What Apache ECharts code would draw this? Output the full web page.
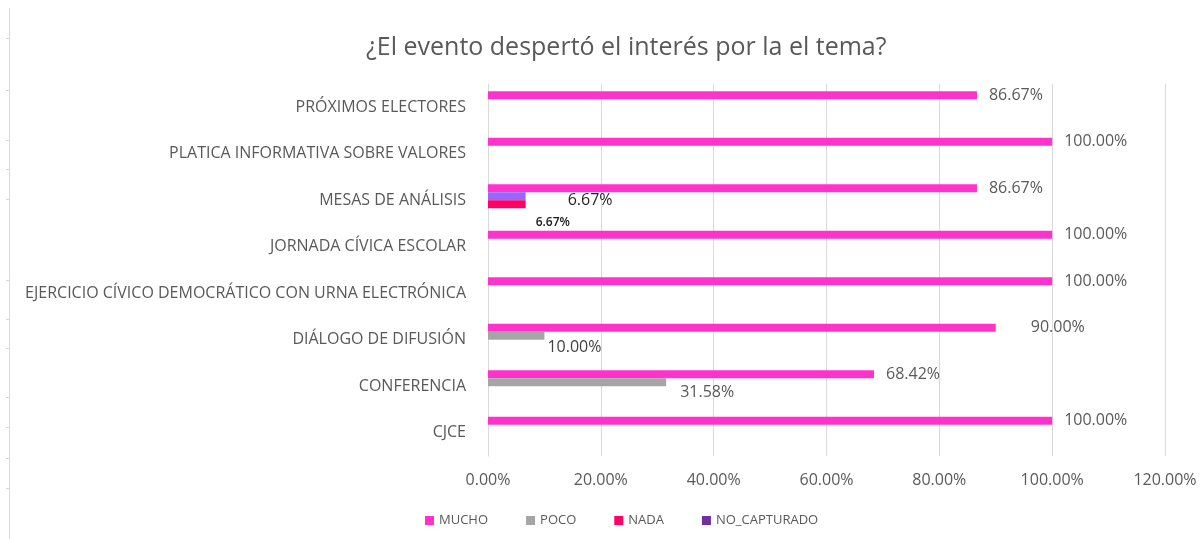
<!DOCTYPE html>
<html>
<head>
<meta charset="utf-8">
<script src="https://cdn.jsdelivr.net/npm/echarts@6/dist/echarts.min.js"></script>
<style>
html,body{margin:0;padding:0;background:#fff;}
#chart{width:1202px;height:539px;}
</style>
</head>
<body>
<div id="chart"></div>
<script>
const FONT = '"Open Sans", sans-serif';
const titleText = '¿El evento despertó el interés por la el tema?';
const categories = ['CJCE', 'CONFERENCIA', 'DIÁLOGO DE DIFUSIÓN', 'EJERCICIO CÍVICO DEMOCRÁTICO CON URNA ELECTRÓNICA', 'JORNADA CÍVICA ESCOLAR', 'MESAS DE ANÁLISIS', 'PLATICA INFORMATIVA SOBRE VALORES', 'PRÓXIMOS ELECTORES'];
const seriesNames = ['MUCHO', 'POCO', 'NADA', 'NO_CAPTURADO'];
const mucho = [100, 68.42, 90, 100, 100, 86.67, 100, 86.67];
const poco = [null, 31.58, 10, null, null, 6.67, null, null];
const nada = [null, null, null, null, null, 6.67, null, null];
const noCapturado = [null, null, null, null, null, null, null, null];
const xTicks = [0, 20, 40, 60, 80, 100, 120];

const colors = ['#FF33CC', '#A5A5A5', '#FF0066', '#7030A0'];
const pct = v => v.toFixed(2) + '%';

const labelBase = {show: true, position: 'right', distance: 12, color: '#595959', fontSize: 16, fontFamily: FONT,
  formatter: p => (p.value == null ? '' : pct(p.value))};

function items(arr, special) {
  return arr.map((v, i) => {
    if (special && special[i]) return Object.assign({value: v}, special[i]);
    return v;
  });
}

const muchoData = items(mucho, {2: {label: {distance: 35}}});
const pocoData = items(poco, {
  1: {label: {distance: 14, offset: [0, 10]}},
  2: {label: {distance: 3, offset: [0, 12], color: '#404040'}},
  5: {itemStyle: {color: '#9966FF'}, label: {distance: 42, offset: [0, 4], color: '#262626'}}
});
const nadaData = items(nada, {
  5: {label: {distance: 10, offset: [0, 18], color: '#1a1a1a', fontSize: 12, fontWeight: 600}}
});

const seriesData = [muchoData, pocoData, nadaData, noCapturado];

const leftTicks = [38, 90, 140, 169, 199, 280, 319, 348, 397, 427, 458, 488];
const graphics = [{type: 'line', shape: {x1: 9.5, y1: 8, x2: 9.5, y2: 539}, style: {stroke: '#D9D9D9', lineWidth: 1}}]
  .concat(leftTicks.map(y => ({type: 'line', shape: {x1: 6, y1: y + 0.5, x2: 9, y2: y + 0.5}, style: {stroke: '#D9D9D9', lineWidth: 1}})));

const chart = echarts.init(document.getElementById('chart'));
chart.setOption({
  animation: false,
  color: colors,
  title: {text: titleText, left: 361, top: 30, textStyle: {fontFamily: FONT, fontSize: 25, fontWeight: 'normal', color: '#595959'}},
  legend: {data: seriesNames, bottom: 7, left: 420, itemWidth: 9, itemHeight: 9, itemGap: 38, icon: 'rect',
    textStyle: {fontFamily: FONT, fontSize: 13, color: '#595959'}},
  grid: {left: 488, right: 37, top: 84, bottom: 83, containLabel: false},
  xAxis: {type: 'value', min: 0, max: 120, interval: 20,
    axisLabel: {formatter: v => pct(v), fontFamily: FONT, fontSize: 16, color: '#595959', margin: 16},
    splitLine: {show: true, lineStyle: {color: '#D9D9D9'}}, axisLine: {show: false}, axisTick: {show: false}},
  yAxis: {type: 'category', data: categories,
    axisLabel: {fontFamily: FONT, fontSize: 16, color: '#595959', margin: 22},
    axisLine: {show: true, lineStyle: {color: '#D9D9D9'}}, axisTick: {show: false}},
  graphic: graphics,
  series: seriesNames.map((n, i) => ({
    name: n, type: 'bar', data: seriesData[i], barWidth: 8, barGap: '0%',
    label: labelBase
  }))
});
</script>
</body>
</html>
